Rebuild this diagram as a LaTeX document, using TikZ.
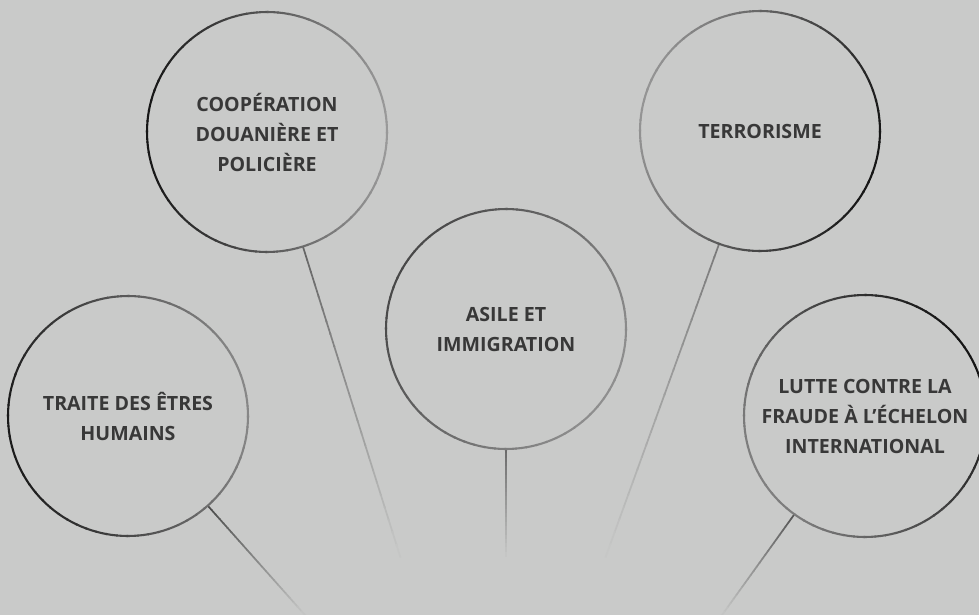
\documentclass[tikz,border=0pt]{standalone}
\usepackage{fontspec}
\setmainfont{Open Sans}
\usetikzlibrary{calc}
\definecolor{bg}{HTML}{C9CAC9}
\definecolor{txt}{HTML}{383838}
\tikzset{
  topic/.style={circle, minimum size=240pt, inner sep=0pt, align=center,
    font=\bfseries\fontsize{19.6}{30}\selectfont, text=txt},
}
% gradient ring: node, radius, dark angle, dark colour, light colour
\newcommand\ringdraw[5]{%
  \colorlet{ringdk}{#4}\colorlet{ringlt}{#5}%
  \foreach \a in {0,5,...,355}{%
    \pgfmathtruncatemacro\m{50+50*cos(\a+2.5-#3)}%
    \draw[line width=2.1pt, line cap=butt, draw=ringdk!\m!ringlt] ($(#1.center)+(\a:#2)$) arc[start angle=\a, end angle=\a+5.6, radius=#2];
  }}
% fading line: from, to, colour
\newcommand\fadeline[3]{%
  \colorlet{linedk}{#3}%
  \foreach \i in {0,...,24}{%
    \pgfmathtruncatemacro\m{100-4*\i}%
    \draw[line width=1.7pt, draw=linedk!\m!bg] ($(#1)!\i/25!(#2)$) -- ($(#1)!\i/25+0.045!(#2)$);
  }}
\begin{document}
\begin{tikzpicture}[x=1pt,y=-1pt]
\useasboundingbox (0,0) rectangle (979,615);
\fill[bg] (0,0) rectangle (979,615);

\node[topic] (c1) at (267,132) {COOPÉRATION\\DOUANIÈRE ET\\POLICIÈRE};
\node[topic] (c2) at (128,416) {TRAITE DES ÊTRES\\HUMAINS};
\node[topic] (c3) at (506,329) {ASILE ET\\IMMIGRATION};
\node[topic] (c4) at (760,131) {TERRORISME};
\node[topic] (c5) at (865,416) {LUTTE CONTRE LA\\FRAUDE À L’ÉCHELON\\INTERNATIONAL};

\coordinate (e1) at (400,556);
\coordinate (e2) at (305,615);
\coordinate (e3) at (506,556);
\coordinate (e4) at (606,556);
\coordinate (e5) at (722,615);

\coordinate (s1) at ($(c1.center)!120pt!(e1)$);
\coordinate (s2) at ($(c2.center)!120pt!(e2)$);
\coordinate (s3) at ($(c3.center)!120pt!(e3)$);
\coordinate (s4) at ($(c4.center)!120pt!(e4)$);
\coordinate (s5) at ($(c5.center)!121pt!(e5)$);

\fadeline{s1}{e1}{black!60}
\fadeline{s2}{e2}{black!70}
\fadeline{s3}{e3}{black!58}
\fadeline{s4}{e4}{black!52}
\fadeline{s5}{e5}{black!66}

\ringdraw{c1}{120}{180}{black!92}{black!40}
\ringdraw{c2}{120}{170}{black!90}{black!47}
\ringdraw{c3}{120}{210}{black!72}{black!44}
\ringdraw{c4}{120}{15}{black!92}{black!42}
\ringdraw{c5}{121}{-30}{black!92}{black!50}
\end{tikzpicture}
\end{document}
